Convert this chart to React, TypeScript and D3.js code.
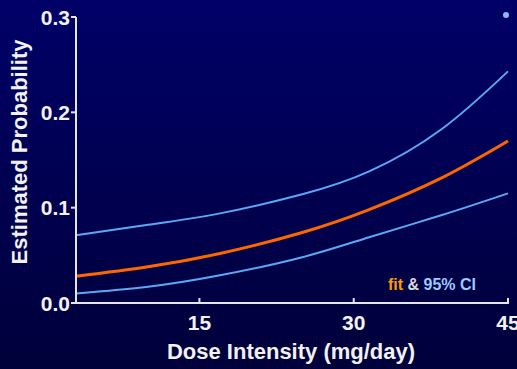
import React from "react";
import * as d3 from "d3";

// values
const doses = [3, 10, 17, 25, 31.5, 38.5, 45];
const fitValues = [0.028, 0.038, 0.052, 0.074, 0.098, 0.131, 0.17];
const upperValues = [0.071, 0.082, 0.094, 0.114, 0.138, 0.182, 0.243];
const lowerValues = [0.01, 0.017, 0.029, 0.048, 0.069, 0.092, 0.115];
const xTicks = [15, 30, 45];
const yTicks = [0, 0.1, 0.2, 0.3];

const width = 517;
const height = 369;
const font = "'Liberation Sans', Arial, sans-serif";

const App: React.FC = () => {
  const x = d3.scaleLinear().domain([3, 45]).range([76, 508]);
  const y = d3.scaleLinear().domain([0, 0.3]).range([303, 17]);

  const line = d3
    .line<number>()
    .x((_, i) => x(doses[i]))
    .y((d) => y(d))
    .curve(d3.curveNatural);

  return (
    <svg
      width={width}
      height={height}
      style={{ position: "absolute", left: 0, top: 0, display: "block" }}
      fontFamily={font}
    >
      <defs>
        <linearGradient id="bg" x1="0" y1="0" x2="0" y2="1">
          <stop offset="0%" stopColor="#000068" />
          <stop offset="100%" stopColor="#00003a" />
        </linearGradient>
      </defs>
      <rect width={width} height={height} fill="url(#bg)" />

      {/* curves */}
      <path d={line(upperValues) || ""} fill="none" stroke="#5aa9f5" strokeWidth={2} />
      <path d={line(lowerValues) || ""} fill="none" stroke="#5aa9f5" strokeWidth={2} />
      <path d={line(fitValues) || ""} fill="none" stroke="#ff6600" strokeWidth={3} />

      {/* y axis */}
      <line x1={x(3)} x2={x(3)} y1={y(0.3)} y2={y(0) + 1} stroke="#e6e6e6" strokeWidth={2} />
      {yTicks.map((t) => (
        <g key={t}>
          <line x1={x(3) - 5} x2={x(3)} y1={y(t)} y2={y(t)} stroke="#e6e6e6" strokeWidth={2} />
          <text
            x={x(3) - 6}
            y={y(t)}
            dy="0.36em"
            textAnchor="end"
            fill="#f2f2f2"
            fontSize={21}
            fontWeight="bold"
          >
            {t.toFixed(1)}
          </text>
        </g>
      ))}

      {/* x axis */}
      <line x1={x(3)} x2={x(45) + 1} y1={y(0)} y2={y(0)} stroke="#e6e6e6" strokeWidth={2} />
      {xTicks.map((t) => (
        <g key={t}>
          <line x1={x(t)} x2={x(t)} y1={y(0) - 5} y2={y(0)} stroke="#e6e6e6" strokeWidth={2} />
          <text
            x={x(t)}
            y={330}
            textAnchor="middle"
            fill="#f2f2f2"
            fontSize={21}
            fontWeight="bold"
          >
            {t}
          </text>
        </g>
      ))}

      {/* axis titles */}
      <text
        x={291}
        y={359}
        textAnchor="middle"
        fill="#f2f2f2"
        fontSize={22}
        fontWeight="bold"
      >
        Dose Intensity (mg/day)
      </text>
      <text
        transform="translate(27,152) rotate(-90)"
        textAnchor="middle"
        fill="#f2f2f2"
        fontSize={22}
        fontWeight="bold"
      >
        Estimated Probability
      </text>

      {/* legend */}
      <text x={388} y={290} fontSize={16} fontWeight="bold">
        <tspan fill="#ff9900">fit</tspan>
        <tspan fill="#d8d8d8"> &amp; </tspan>
        <tspan fill="#99ccff">95% CI</tspan>
      </text>

      <circle cx={506} cy={15} r={3} fill="#88bbff" />
    </svg>
  );
};

export default App;
